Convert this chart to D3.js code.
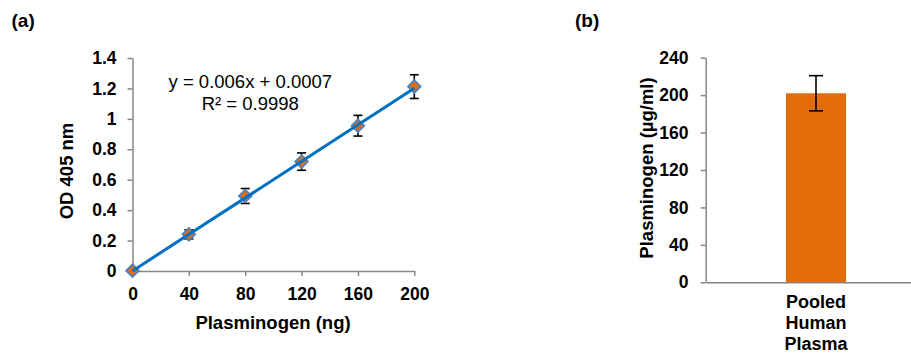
<!DOCTYPE html>
<html>
<head>
<meta charset="utf-8">
<script src="https://cdn.jsdelivr.net/npm/d3@7"></script>
<style>
  body { margin: 0; background: #fff; }
  text { font-family: "Liberation Sans", Arial, sans-serif; }
</style>
</head>
<body>
<svg id="chart" width="911" height="354"></svg>
<script>
// Panel (a) standard curve data
const amounts = [0, 40, 80, 120, 160, 200];
const odValues = [0.002, 0.241, 0.493, 0.719, 0.955, 1.212];
const odErrors = [0, 0.03, 0.049, 0.057, 0.068, 0.078];
const odTicks = [0, 0.2, 0.4, 0.6, 0.8, 1, 1.2, 1.4];
const fitSlope = 0.006;
const fitIntercept = 0.0007;

// Panel (b) bar data
const samples = ["Pooled Human Plasma"];
const sampleLabels = [["Pooled", "Human", "Plasma"]];
const concValues = [202];
const concErrors = [18.8];
const concTicks = [0, 40, 80, 120, 160, 200, 240];

const axisGray = "#868686";
const orange = "#E46C0A";
const svg = d3.select("#chart");

function styleAxis(g, size) {
  g.selectAll("path, line").attr("stroke", axisGray).attr("stroke-width", 1.5);
  g.selectAll("text")
    .attr("fill", "#000")
    .style("font-size", size + "px")
    .style("font-weight", "bold")
    .style("font-family", '"Liberation Sans", Arial, sans-serif');
}

// ---------- panel (a) ----------
const xA = d3.scaleLinear().domain([0, 200]).range([132.5, 414.3]);
const yA = d3.scaleLinear().domain([0, 1.4]).range([271, 58]);

svg.append("g")
  .attr("transform", "translate(0,271)")
  .call(d3.axisBottom(xA).tickValues(amounts).tickSize(5).tickPadding(12).tickSizeOuter(0))
  .call((g) => styleAxis(g, 17.5));

svg.append("g")
  .attr("transform", "translate(132.5,0)")
  .call(d3.axisLeft(yA).tickValues(odTicks).tickSize(5).tickPadding(11).tickSizeOuter(0)
    .tickFormat((d) => d3.format("~g")(d)))
  .call((g) => styleAxis(g, 17.5));

// error bars
const pts = amounts.map((x, i) => ({ x, y: odValues[i], e: odErrors[i] }));
const eb = svg.append("g").attr("stroke", "#000").attr("stroke-width", 1.6);
pts.filter((d) => d.e > 0).forEach((d) => {
  const cx = xA(d.x);
  eb.append("line").attr("x1", cx).attr("x2", cx).attr("y1", yA(d.y - d.e)).attr("y2", yA(d.y + d.e));
  [d.y - d.e, d.y + d.e].forEach((v) => {
    eb.append("line").attr("x1", cx - 4.5).attr("x2", cx + 4.5).attr("y1", yA(v)).attr("y2", yA(v));
  });
});

// markers
svg.append("g")
  .selectAll("path")
  .data(pts)
  .enter()
  .append("path")
  .attr("d", d3.symbol().type(d3.symbolSquare).size(80))
  .attr("transform", (d) => "translate(" + xA(d.x) + "," + yA(d.y) + ") rotate(45)")
  .attr("fill", orange)
  .attr("stroke", "#4F81BD")
  .attr("stroke-width", 1.8);

// trend line
svg.append("line")
  .attr("x1", xA(0)).attr("y1", yA(fitIntercept))
  .attr("x2", xA(200)).attr("y2", yA(fitSlope * 200 + fitIntercept))
  .attr("stroke", "#0070C0")
  .attr("stroke-width", 3);

svg.append("text").attr("x", 250.3).attr("y", 87.5).attr("text-anchor", "middle")
  .style("font-size", "18.5px").text("y = 0.006x + 0.0007");
svg.append("text").attr("x", 250.3).attr("y", 110).attr("text-anchor", "middle")
  .style("font-size", "18.5px").text("R² = 0.9998");

svg.append("text").attr("x", 273).attr("y", 329).attr("text-anchor", "middle")
  .style("font-size", "18.5px").style("font-weight", "bold").text("Plasminogen (ng)");
svg.append("text").attr("transform", "translate(73.3,171) rotate(-90)").attr("text-anchor", "middle")
  .style("font-size", "18.5px").style("font-weight", "bold").text("OD 405 nm");
svg.append("text").attr("x", 11.5).attr("y", 27).style("font-size", "19px")
  .style("font-weight", "bold").text("(a)");

// ---------- panel (b) ----------
const xB = d3.scaleBand().domain(samples).range([706, 926]);
const yB = d3.scaleLinear().domain([0, 240]).range([282.3, 57.7]);

svg.append("g")
  .attr("transform", "translate(700.5,0)")
  .call(d3.axisLeft(yB).tickValues(concTicks).tickSize(0).tickPadding(12))
  .call((g) => { g.select(".domain").remove(); styleAxis(g, 17.5); });

svg.append("g")
  .attr("transform", "translate(705.7,0)")
  .call(d3.axisLeft(yB).tickValues(concTicks).tickSize(5).tickFormat("").tickSizeOuter(0))
  .call((g) => styleAxis(g, 17.5));

const bw = 60;
svg.append("g")
  .selectAll("rect")
  .data(samples)
  .enter()
  .append("rect")
  .attr("x", (d) => xB(d) + xB.bandwidth() / 2 - bw / 2)
  .attr("width", bw)
  .attr("y", (d, i) => yB(concValues[i]))
  .attr("height", (d, i) => yB(0) - yB(concValues[i]))
  .attr("fill", orange);

svg.append("g")
  .attr("transform", "translate(0,282.3)")
  .call(d3.axisBottom(xB).tickSize(0).tickFormat(""))
  .call((g) => styleAxis(g, 17.5));

const ebB = svg.append("g").attr("stroke", "#000").attr("stroke-width", 1.6);
samples.forEach((s, i) => {
  const cx = xB(s) + xB.bandwidth() / 2;
  const lo = concValues[i] - concErrors[i];
  const hi = concValues[i] + concErrors[i];
  ebB.append("line").attr("x1", cx).attr("x2", cx).attr("y1", yB(lo)).attr("y2", yB(hi));
  [lo, hi].forEach((v) => {
    ebB.append("line").attr("x1", cx - 7).attr("x2", cx + 7).attr("y1", yB(v)).attr("y2", yB(v));
  });
  const t = svg.append("text").attr("text-anchor", "middle")
    .style("font-size", "18px").style("font-weight", "bold");
  sampleLabels[i].forEach((line, j) => {
    t.append("tspan").attr("x", cx).attr("y", 308 + j * 20.8).text(line);
  });
});

svg.append("text").attr("transform", "translate(652.6,168) rotate(-90)").attr("text-anchor", "middle")
  .style("font-size", "18.5px").style("font-weight", "bold").text("Plasminogen (µg/ml)");
svg.append("text").attr("x", 575).attr("y", 27).style("font-size", "19px")
  .style("font-weight", "bold").text("(b)");
</script>
</body>
</html>
